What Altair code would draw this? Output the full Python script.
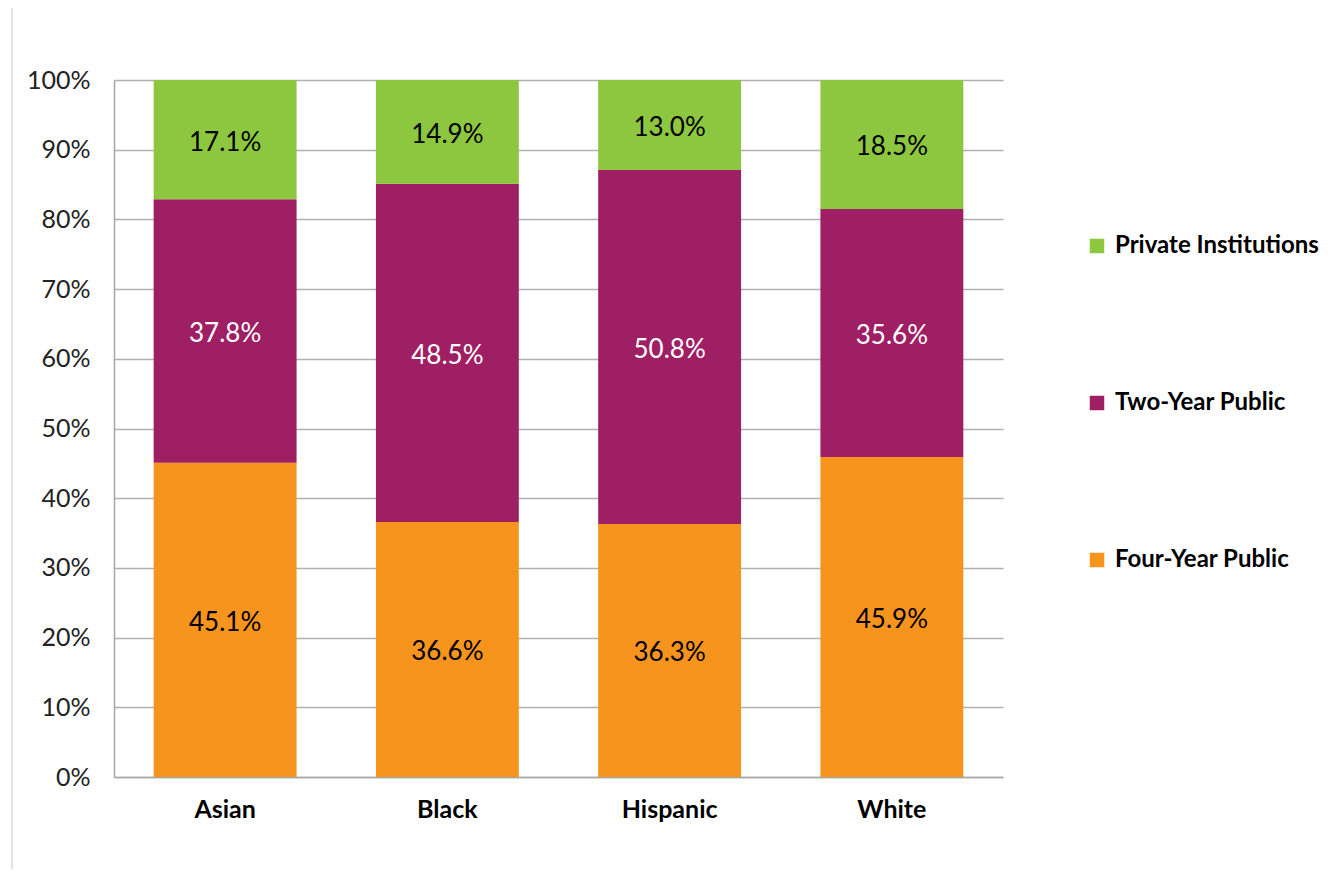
import altair as alt
import pandas as pd

groups = ["Asian", "Black", "Hispanic", "White"]
sectors = ["Four-Year Public", "Two-Year Public", "Private Institutions"]
four_year = [45.1, 36.6, 36.3, 45.9]
two_year = [37.8, 48.5, 50.8, 35.6]
private = [17.1, 14.9, 13.0, 18.5]

rows = []
for i, g in enumerate(groups):
    for k, (s, vals) in enumerate(zip(sectors, [four_year, two_year, private])):
        rows.append({"group": g, "sector": s, "value": vals[i], "order": k,
                     "label": f"{vals[i]:.1f}%",
                     "tcolor": "white" if s == "Two-Year Public" else "black"})
df = pd.DataFrame(rows)

legend_order = ["Private Institutions", "Two-Year Public", "Four-Year Public"]
colors = ["#8DC63F", "#9E1F63", "#F7941D"]

base = alt.Chart(df).encode(
    x=alt.X("group:N", sort=groups, title=None,
            scale=alt.Scale(paddingInner=0.357, paddingOuter=0.1785),
            axis=alt.Axis(labelAngle=0, labelFontSize=25, labelFontWeight="bold",
                          labelColor="black", labelPadding=20, ticks=False,
                          domainColor="#a6a6a6", domainWidth=1.5)),
)

bars = base.mark_bar().encode(
    y=alt.Y("value:Q", stack="zero", title=None,
            scale=alt.Scale(domain=[0, 100], clamp=True, nice=False),
            axis=alt.Axis(values=list(range(0, 101, 10)), labelExpr="datum.value + '%'",
                          labelFontSize=25, labelColor="#222222", labelPadding=24,
                          ticks=False, gridColor="#b0b0b0", gridWidth=1.3,
                          domainColor="#a6a6a6", domainWidth=1.5)),
    color=alt.Color("sector:N", scale=alt.Scale(domain=legend_order, range=colors),
                    legend=alt.Legend(title=None, orient="none", legendX=971, legendY=154,
                                      symbolType="square", symbolSize=210,
                                      symbolStrokeWidth=0, labelLimit=0,
                                      labelFontSize=24, labelFontWeight="bold",
                                      labelColor="black", rowPadding=133,
                                      labelOffset=6)),
    order=alt.Order("order:Q"),
)

texts = base.mark_text(fontSize=26, baseline="middle", dy=3).encode(
    y=alt.Y("value:Q", stack="zero", bandPosition=0.5),
    text="label:N",
    color=alt.Color("tcolor:N", scale=None),
    order=alt.Order("order:Q"),
)

frame = alt.Chart(pd.DataFrame({"k": [0]})).mark_rule(color="#c8c8c8", strokeWidth=1).encode(
    x=alt.value(-102), y=alt.value(-73), y2=alt.value(790))

chart = alt.layer(bars, texts, frame).properties(
    width=889, height=697,
    autosize=alt.AutoSizeParams(type="none"),
    padding={"left": 106, "top": 72, "right": 331, "bottom": 92},
).configure(font="Lato").configure_view(stroke=None)

chart.save("out.html", embed_options={"renderer": "svg", "actions": False})
